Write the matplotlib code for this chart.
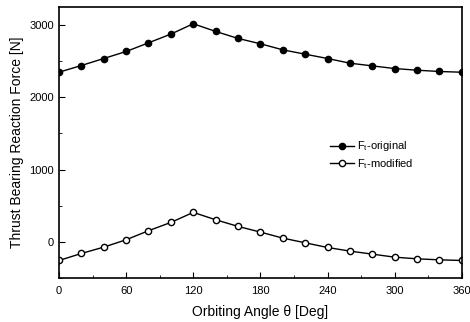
import matplotlib.pyplot as plt
import numpy as np
from matplotlib.ticker import MultipleLocator

plt.rcParams['font.family'] = ['Liberation Sans', 'DejaVu Sans']

# orbiting angle data
angle = np.arange(0, 361, 20)
f_original = [2348, 2441, 2538, 2635, 2755, 2876, 3019, 2913, 2816, 2742,
              2658, 2598, 2538, 2473, 2436, 2399, 2376, 2358, 2348]
f_modified = [-259, -162, -74, 28, 153, 268, 407, 305, 213, 134,
              51, -14, -79, -129, -171, -213, -236, -250, -259]

fig = plt.figure(figsize=(4.7, 3.22), dpi=100)
ax = fig.add_axes([0.1255, 0.137, 0.857, 0.841])

ax.plot(angle, f_original, color="black", lw=1.0, marker="o", ms=4.5,
        mfc="black", mec="black", label=r"F$_\mathregular{t}$-original")
ax.plot(angle, f_modified, color="black", lw=1.0, marker="o", ms=4.5,
        mfc="white", mec="black", mew=1.0, label=r"F$_\mathregular{t}$-modified")

ax.set_xlim(0, 360)
ax.set_ylim(-500, 3250)
ax.xaxis.set_major_locator(MultipleLocator(60))
ax.xaxis.set_minor_locator(MultipleLocator(30))
ax.yaxis.set_major_locator(MultipleLocator(1000))
ax.yaxis.set_minor_locator(MultipleLocator(500))
ax.tick_params(which="both", direction="in", labelsize=8)
ax.tick_params(which="major", length=4)
ax.tick_params(which="minor", length=2)
ax.tick_params(axis="x", pad=6)
for s in ax.spines.values():
    s.set_linewidth(1.2)

ax.set_xlabel("Orbiting Angle θ [Deg]", fontsize=10, labelpad=6)
ax.set_ylabel("Thrust Bearing Reaction Force [N]", fontsize=10)

ax.legend(loc="upper left", bbox_to_anchor=(0.648, 0.548), frameon=False,
          fontsize=8, handlelength=2.2, handletextpad=0.2, labelspacing=0.3)

fig.savefig("out.png", dpi=100)
